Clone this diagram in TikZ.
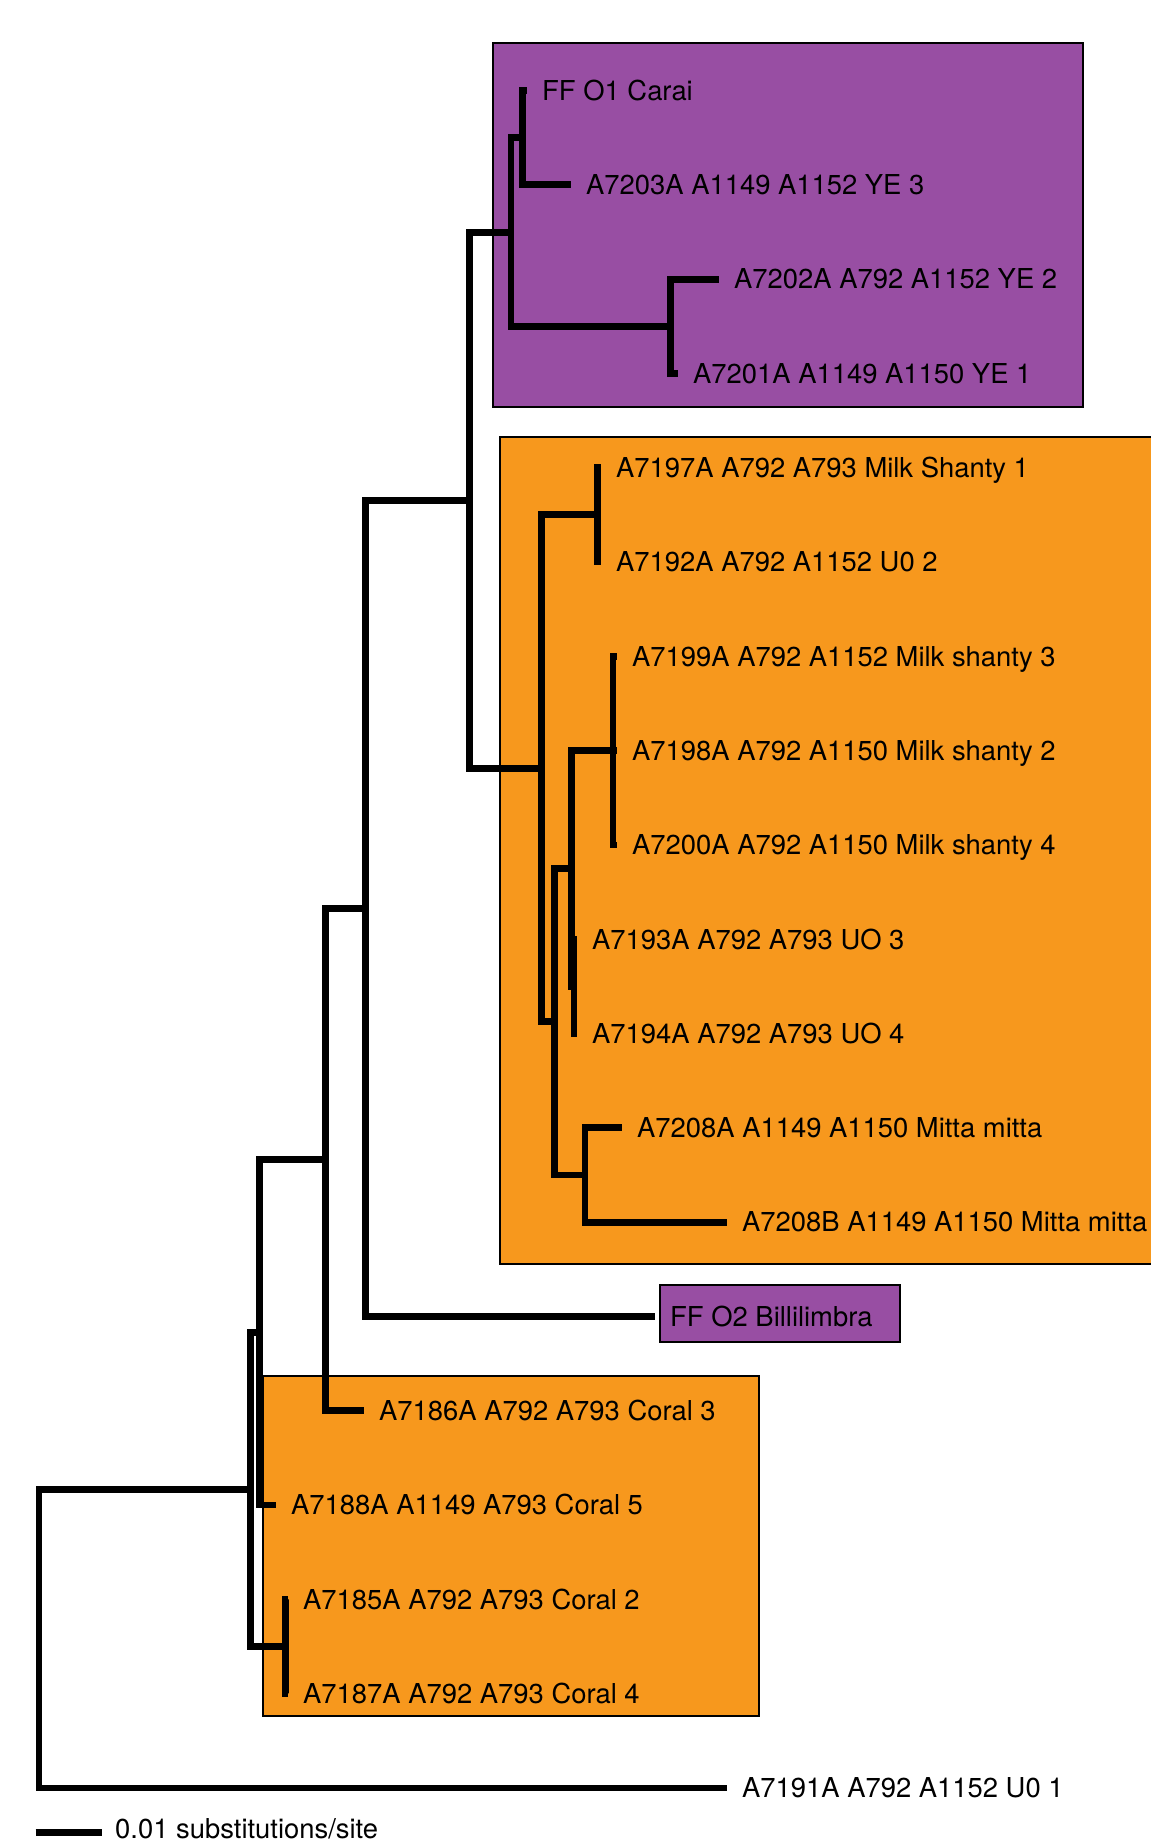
\documentclass[tikz,border=0pt]{standalone}
\usepackage{fontspec}
\setmainfont{TeX Gyre Heros}
\definecolor{CladePurple}{HTML}{984EA3}
\definecolor{CladeOrange}{HTML}{F7981D}
\usetikzlibrary{positioning}

\begin{document}
\begin{tikzpicture}[x=1pt,y=-1pt,
 br/.style={line width=6.8pt,line join=miter},
 tip/.style={anchor=west,inner xsep=15pt,inner ysep=0pt,text height=19.6pt,text depth=0pt,font=\fontsize{27.4}{30}\selectfont},
 clade/.style={draw=black,line width=2pt}]
\useasboundingbox (0,0) rectangle (1151,1842);
% clade boxes
\draw[clade,fill=CladePurple] (493,43) rectangle (1083,407);
\draw[clade,fill=CladeOrange] (500,437) rectangle (1160,1264);
\draw[clade,fill=CladePurple] (660,1285) rectangle (900,1342);
\draw[clade,fill=CladeOrange] (263,1376) rectangle (759,1716);
% leaves
\foreach \x/\r/\t in {527/0/FF O1 Carai, 571/1/A7203A A1149 A1152 YE 3,
 719/2/A7202A A792 A1152 YE 2, 678/3/A7201A A1149 A1150 YE 1,
 601/4/A7197A A792 A793 Milk Shanty 1, 601/5/A7192A A792 A1152 U0 2,
 617/6/A7199A A792 A1152 Milk shanty 3, 617/7/A7198A A792 A1150 Milk shanty 2,
 617/8/A7200A A792 A1150 Milk shanty 4, 577/9/A7193A A792 A793 UO 3,
 577/10/A7194A A792 A793 UO 4, 622/11/A7208A A1149 A1150 Mitta mitta,
 727/12/A7208B A1149 A1150 Mitta mitta, 655/13/FF O2 Billilimbra,
 364/14/A7186A A792 A793 Coral 3, 276/15/A7188A A1149 A793 Coral 5,
 288/16/A7185A A792 A793 Coral 2, 288/17/A7187A A792 A793 Coral 4,
 727/18/A7191A A792 A1152 U0 1}
 \node[tip] (l\r) at (\x,{90.5+94.3*\r}) {\t};
% internal nodes
\coordinate (car) at (522.6,137.7);
\coordinate (ye) at (670.6,326.7);
\coordinate (pur) at (511,232.2);
\coordinate (ms) at (597.8,514.8);
\coordinate (milk) at (613,750.6);
\coordinate (uo) at (574,986.4);
\coordinate (n7) at (571.5,868.5);
\coordinate (mit) at (585,1175);
\coordinate (n6) at (554.4,1021.7);
\coordinate (ora) at (541.4,768.3);
\coordinate (n5) at (469.8,500.2);
\coordinate (n4) at (365.3,908.3);
\coordinate (n3) at (325.3,1159.5);
\coordinate (n2) at (259.6,1332.3);
\coordinate (cor) at (285.4,1646.4);
\coordinate (n1) at (250.5,1489.3);
\coordinate (root) at (39,1638.6);
% branches
\foreach \p/\c in {car/l0.west, car/l1.west, ye/l2.west, ye/l3.west, pur/car, pur/ye,
 ms/l4.west, ms/l5.west, milk/l6.west, milk/l7.west, milk/l8.west,
 uo/l9.west, uo/l10.west, n7/milk, n7/uo, mit/l11.west, mit/l12.west,
 n6/n7, n6/mit, ora/ms, ora/n6, n5/pur, n5/ora, n4/n5, n4/l13.west,
 n3/n4, n3/l14.west, n2/n3, n2/l15.west, cor/l16.west, cor/l17.west,
 n1/n2, n1/cor, root/n1, root/l18.west}
 \draw[br] (\p) |- (\c);
% scale bar
\coordinate (sb0) at (35.5,1832.5);
\coordinate (sb1) at (102,1832.5);
\draw[br] (sb0) -- (sb1);
\node[tip,inner xsep=13pt,yshift=4pt] (sbl) at (sb1) {0.01 substitutions/site};
\end{tikzpicture}
\end{document}
